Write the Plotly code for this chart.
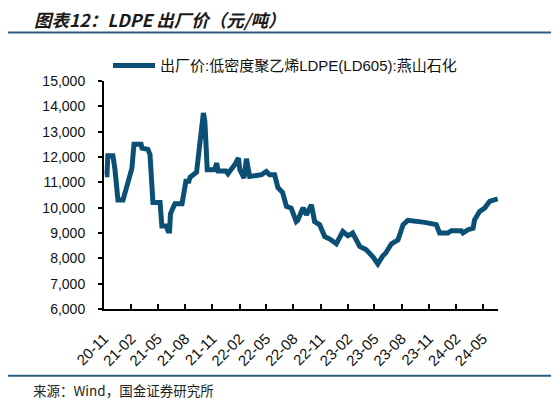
import plotly.graph_objects as go

# ---- data ----
dates = [
    "2020-11-04", "2020-11-11", "2020-11-14", "2020-12-01", "2020-12-08", "2020-12-18",
    "2021-01-04", "2021-01-18", "2021-01-28", "2021-02-03", "2021-02-10", "2021-03-06",
    "2021-03-09", "2021-03-29", "2021-04-05", "2021-04-15", "2021-05-09", "2021-05-15",
    "2021-05-29", "2021-06-05", "2021-06-10", "2021-06-13", "2021-06-18", "2021-06-28",
    "2021-07-22", "2021-07-25", "2021-08-04", "2021-08-14", "2021-08-18", "2021-09-09",
    "2021-09-20", "2021-10-02", "2021-10-07", "2021-10-15", "2021-11-03", "2021-11-10",
    "2021-11-16", "2021-11-20", "2021-12-17", "2021-12-24", "2022-01-06", "2022-01-16",
    "2022-01-28", "2022-02-02", "2022-02-16", "2022-02-24", "2022-03-07", "2022-03-31",
    "2022-04-16", "2022-05-02", "2022-05-13", "2022-05-30", "2022-06-10", "2022-06-26",
    "2022-07-03", "2022-07-09", "2022-07-25", "2022-08-11", "2022-08-16", "2022-09-03",
    "2022-09-14", "2022-10-01", "2022-10-12", "2022-10-29", "2022-11-15", "2022-12-02",
    "2022-12-24", "2023-01-15", "2023-02-01", "2023-02-17", "2023-03-13", "2023-04-04",
    "2023-04-27", "2023-05-13", "2023-05-30", "2023-06-08", "2023-06-28", "2023-07-20",
    "2023-08-06", "2023-08-22", "2023-10-18", "2023-11-15", "2023-11-26", "2023-12-07",
    "2024-01-04", "2024-01-16", "2024-02-18", "2024-02-24", "2024-03-12", "2024-03-29",
    "2024-04-03", "2024-04-20", "2024-05-07", "2024-05-24", "2024-06-15", "2024-06-20",
]
prices = [
    11300, 11300, 12050, 12050, 11500, 10300,
    10300, 10950, 11350, 11550, 12500, 12500,
    12350, 12300, 12100, 10200, 10200, 9280,
    9280, 9080, 9080, 9750, 9900, 10150,
    10150, 10400, 11040, 11040, 11200, 11400,
    12500, 13740, 13400, 11500, 11500, 11550,
    11760, 11450, 11450, 11340, 11550, 11700,
    11960, 11500, 11170, 11930, 11230, 11280,
    11300, 11430, 11300, 11300, 10800, 10600,
    10300, 10050, 9980, 9450, 9500, 10000,
    9720, 10115, 9450, 9325, 8860, 8760,
    8575, 9060, 8890, 9000, 8470, 8340,
    8050, 7780, 8100, 8200, 8575, 8730,
    9325, 9500, 9420, 9380, 9330, 9000,
    9000, 9090, 9090, 9000, 9130, 9190,
    9520, 9850, 9985, 10250, 10350, 10350,
]
tick_dates = ["2020-11-01", "2021-02-01", "2021-05-01", "2021-08-01", "2021-11-01",
              "2022-02-01", "2022-05-01", "2022-08-01", "2022-11-01", "2023-02-01",
              "2023-05-01", "2023-08-01", "2023-11-01", "2024-02-01", "2024-05-01"]
tick_labels = ["20-11", "21-02", "21-05", "21-08", "21-11", "22-02", "22-05", "22-08",
               "22-11", "23-02", "23-05", "23-08", "23-11", "24-02", "24-05"]
series_name = "出厂价:低密度聚乙烯LDPE(LD605):燕山石化"
title_text = "图表12：LDPE 出厂价（元/吨）"
source_text = "来源：Wind，国金证券研究所"

# ---- layout geometry (pixels, in reference-image coordinates) ----
OFF = 8                      # page body margin of the browser
W, H = 559 - OFF, 405 - OFF
L, R, T, B = 104, 498, 81.4, 309
pw, ph = R - L, B - T

def px(x):
    return (x - L) / pw

def py(y):
    return (B - y) / ph

LINE_COLOR = "#0b4f75"
RULE_COLOR = "#2a5d80"

fig = go.Figure()
fig.add_trace(go.Scatter(
    x=dates, y=prices, mode="lines", name=series_name,
    line=dict(color=LINE_COLOR, width=5), showlegend=False,
))

fig.update_layout(
    width=W, height=H,
    margin=dict(l=L - OFF, r=W - (R - OFF), t=T - OFF, b=H - (B - OFF), pad=0,
                autoexpand=False),
    paper_bgcolor="white", plot_bgcolor="white",
    font=dict(family="Liberation Sans, Arial, Noto Sans CJK SC", size=14, color="#111"),
    showlegend=False,
    xaxis=dict(
        type="date", automargin=False,
        range=["2020-11-01", "2024-06-21"],
        tickvals=tick_dates, ticktext=tick_labels,
        tickangle=-45,
        ticks="inside", ticklen=5, tickcolor="#000", tickwidth=1.5,
        showline=True, linecolor="#000", linewidth=2,
        showgrid=False, zeroline=False,
        tickfont=dict(size=15, color="#111"),
        ticklabelstandoff=13,
    ),
    yaxis=dict(
        automargin=False,
        range=[6000, 15000], dtick=1000, tick0=6000,
        tickformat=",d",
        ticks="outside", ticklen=4, tickcolor="#000", tickwidth=1.5,
        showline=True, linecolor="#000", linewidth=2,
        showgrid=False, zeroline=False,
        tickfont=dict(size=14, color="#111"),
        ticklabelstandoff=10,
    ),
    shapes=[
        dict(type="line", xref="paper", yref="paper", x0=px(OFF), x1=px(555),
             y0=py(33), y1=py(33), line=dict(color=RULE_COLOR, width=2)),
        dict(type="line", xref="paper", yref="paper", x0=px(OFF), x1=px(555),
             y0=py(375.7), y1=py(375.7), line=dict(color=RULE_COLOR, width=2)),
        # legend sample line
        dict(type="line", xref="paper", yref="paper", x0=px(113), x1=px(155),
             y0=py(66), y1=py(66), line=dict(color=LINE_COLOR, width=5)),
    ],
    annotations=[
        dict(text=title_text, xref="paper", yref="paper", x=px(32), y=py(20),
             xanchor="left", yanchor="middle", showarrow=False,
             font=dict(size=17.5, family="Noto Sans CJK SC", color="#1a1a1a",
                       weight="bold", style="italic")),
        dict(text=series_name, xref="paper", yref="paper", x=px(158), y=py(66),
             xanchor="left", yanchor="middle", showarrow=False,
             font=dict(size=15, family="Liberation Sans, Arial, Noto Sans CJK SC",
                       color="#111")),
        dict(text=source_text, xref="paper", yref="paper", x=px(31), y=py(390),
             xanchor="left", yanchor="middle", showarrow=False,
             font=dict(size=13.5, family="Noto Sans CJK SC", color="#222")),
    ],
)

fig.write_html("out.html")
